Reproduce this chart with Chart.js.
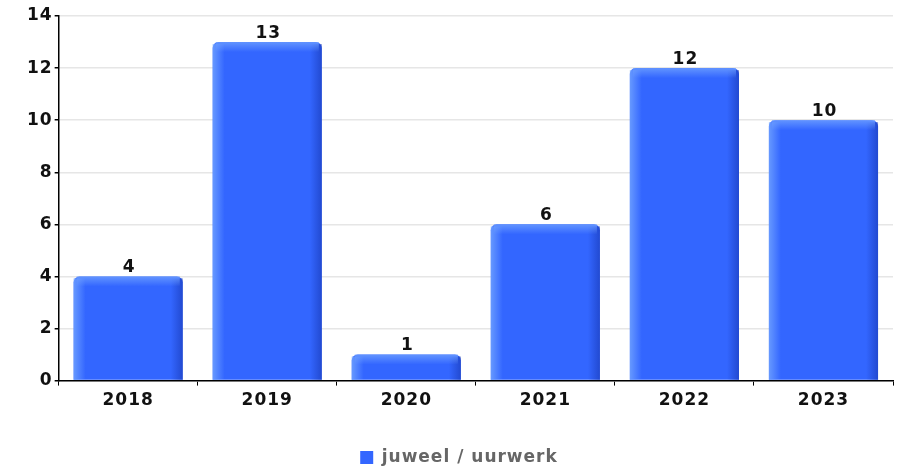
<!DOCTYPE html>
<html>
<head>
<meta charset="utf-8">
<script src="https://cdn.jsdelivr.net/npm/chart.js@4/dist/chart.umd.min.js"></script>
<style>
  html, body { margin: 0; padding: 0; background: #fff; }
  #wrap { width: 903px; height: 470px; }
</style>
</head>
<body>
<div id="wrap"><canvas id="barChart" width="903" height="470"></canvas></div>
<script>
// data
var jaren = ["2018", "2019", "2020", "2021", "2022", "2023"];
var aantallen = [4, 13, 1, 6, 12, 10];
var reeksNaam = "juweel / uurwerk";
var blauw = "#3366ff";

// tekst in het origineel staat breder -> letterspatiering
var spatiePlugin = {
  id: 'spatie',
  beforeUpdate: function(chart){ chart.ctx.letterSpacing = '1px'; },
  beforeDraw: function(chart){ chart.ctx.letterSpacing = '1px'; }
};

// bevel look + value labels above the bars
var bevelPlugin = {
  id: 'bevel',
  afterDatasetsDraw: function(chart){
    var ctx = chart.ctx;
    var meta = chart.getDatasetMeta(0);
    ctx.save();
    meta.data.forEach(function(bar, i){
      var left = bar.x - bar.width/2, right = bar.x + bar.width/2;
      var top = bar.y, bottom = bar.base;
      var h = bottom - top;
      var rand = Math.min(12, bar.width*0.11);
      var topRand = Math.min(10, h*0.5);
      // left light edge
      var g = ctx.createLinearGradient(left, 0, left + rand, 0);
      g.addColorStop(0, 'rgba(120,170,255,0.75)');
      g.addColorStop(1, 'rgba(120,170,255,0)');
      ctx.fillStyle = g;
      ctx.fillRect(left, top + 2, rand, h - 2);
      // right dark edge
      var g2 = ctx.createLinearGradient(right - rand, 0, right, 0);
      g2.addColorStop(0, 'rgba(20,50,170,0)');
      g2.addColorStop(1, 'rgba(20,50,170,0.55)');
      ctx.fillStyle = g2;
      ctx.fillRect(right - rand, top + 2, rand, h - 2);
      // top light strip
      var g3 = ctx.createLinearGradient(0, top, 0, top + topRand);
      g3.addColorStop(0, 'rgba(110,160,255,0.8)');
      g3.addColorStop(1, 'rgba(110,160,255,0)');
      ctx.fillStyle = g3;
      ctx.fillRect(left + 3, top, bar.width - 6, topRand);
      // waarde
      ctx.fillStyle = '#111';
      ctx.font = 'bold 17px "DejaVu Sans"';
      ctx.textAlign = 'center';
      ctx.textBaseline = 'bottom';
      ctx.fillText(String(aantallen[i]), bar.x + 1, top);
    });
    ctx.restore();
  }
};

var ctxB = document.getElementById("barChart").getContext('2d');
var grafiek = new Chart(ctxB, {
  type: 'bar',
  data: {
    labels: jaren,
    datasets: [{
      label: reeksNaam,
      data: aantallen,
      backgroundColor: blauw,
      borderWidth: 0,
      borderRadius: { topLeft: 6, topRight: 6 },
      borderSkipped: 'bottom',
      categoryPercentage: 0.785,
      barPercentage: 1.0
    }]
  },
  options: {
    responsive: false,
    animation: false,
    layout: { padding: { left: 25, right: 10, top: 16, bottom: -6 } },
    plugins: {
      tooltip: { enabled: false },
      legend: {
        position: 'bottom',
        labels: {
          color: '#666',
          font: { family: '"DejaVu Sans"', size: 17, weight: 'bold' },
          boxWidth: 13,
          boxHeight: 13,
          padding: 33
        }
      }
    },
    scales: {
      x: {
        offset: true,
        grid: { display: true, drawOnChartArea: false, offset: true, tickLength: 5, color: '#000', tickColor: '#000' },
        border: { color: '#000', width: 1.5 },
        ticks: { color: '#111', padding: 5, font: { family: '"DejaVu Sans"', size: 17, weight: 'bold' } }
      },
      y: {
        min: 0,
        max: 14,
        ticks: { stepSize: 2, color: '#111', padding: 2, font: { family: '"DejaVu Sans"', size: 17, weight: 'bold' } },
        grid: { color: '#e6e6e6', tickColor: '#000', tickLength: 4, lineWidth: 1.5 },
        border: { color: '#000', width: 1.5 }
      }
    }
  },
  plugins: [spatiePlugin, bevelPlugin]
});
</script>
</body>
</html>
